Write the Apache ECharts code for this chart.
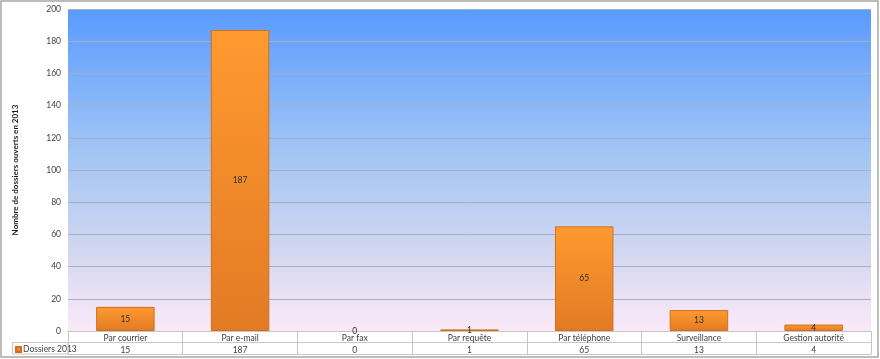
<!DOCTYPE html>
<html><head><meta charset="utf-8">
<script src="https://cdn.jsdelivr.net/npm/echarts@6/dist/echarts.min.js"></script>
<style>html,body{margin:0;padding:0;background:#fff}#c{width:880px;height:359px}</style>
</head><body><div id="c"></div>
<script>
const categories = ['Par courrier','Par e-mail','Par fax','Par requête','Par téléphone','Surveillance','Gestion autorité'];
const values = [15,187,0,1,65,13,4];
const seriesName = 'Dossiers 2013';
const yTicks = {min:0,max:200,interval:20};
const yTitle = 'Nombre de dossiers ouverts en 2013';

const FONT = 'Lato, "Open Sans", sans-serif';
const chart = echarts.init(document.getElementById('c'));
chart.setOption({
  animation:false,
  textStyle:{fontFamily:FONT},
  grid:{left:68,right:9,top:9,bottom:28,show:true,borderWidth:0,
    backgroundColor:new echarts.graphic.LinearGradient(0,0,0,1,[
      {offset:0,color:'#5A9BFF'},{offset:0.45,color:'#A2C6F4'},{offset:0.75,color:'#D2D6F0'},{offset:1,color:'#FBEAF8'}])},
  legend:{data:[seriesName],left:13,top:343,padding:[2,2,2,2],itemWidth:5,itemHeight:5,itemGap:2,
    icon:'rect',textStyle:{fontSize:8.5,color:'#404040',fontFamily:FONT,padding:[0,0,0,-3]}},
  xAxis:[
    {type:'category',data:categories,position:'bottom',
     axisLine:{show:true,lineStyle:{color:'#C6C6C6',width:1}},
     axisTick:{show:true,length:23,interval:0,lineStyle:{color:'#C6C6C6'}},
     axisLabel:{interval:0,margin:2,color:'#404040',fontSize:8.5,lineHeight:11.5,
       formatter:(v,i)=>v+'\n'+values[i]}},
    {type:'category',data:categories,position:'bottom',offset:11.5,
     axisLine:{show:true,lineStyle:{color:'#C6C6C6'}},axisTick:{show:false},axisLabel:{show:false}},
    {type:'category',data:categories,position:'bottom',offset:23,
     axisLine:{show:true,lineStyle:{color:'#C6C6C6'}},axisTick:{show:false},axisLabel:{show:false}}
  ],
  yAxis:{type:'value',min:yTicks.min,max:yTicks.max,interval:yTicks.interval,
    name:yTitle,nameLocation:'middle',nameGap:49,
    nameTextStyle:{fontSize:8,fontWeight:'bold',color:'#1a1a1a',fontFamily:FONT},
    axisLine:{show:false},axisTick:{show:false},
    axisLabel:{color:'#404040',fontSize:8.5,margin:7},
    splitLine:{lineStyle:{color:'#A6B0C4',width:1}}},
  series:[{name:seriesName,type:'bar',
    data:values.map(v=>v===0?{value:v,itemStyle:{borderWidth:0}}:v),
    barCategoryGap:'49%',
    itemStyle:{color:new echarts.graphic.LinearGradient(0,0,0,1,[
      {offset:0,color:'#FF9A30'},{offset:1,color:'#E27A24'}]),
      borderColor:'#D0701E',borderWidth:1},
    label:{show:true,position:'inside',color:'#303030',fontSize:8.5,fontFamily:FONT}}],
  graphic:[
    {type:'rect',shape:{x:1,y:1,width:877,height:356},style:{fill:'none',stroke:'#A6A6A6',lineWidth:1.5},silent:true,z:100},
    {type:'rect',shape:{x:12.5,y:342.5,width:55.5,height:11.5},style:{fill:'none',stroke:'#C6C6C6',lineWidth:1},silent:true,z:50}
  ]
});
</script></body></html>
